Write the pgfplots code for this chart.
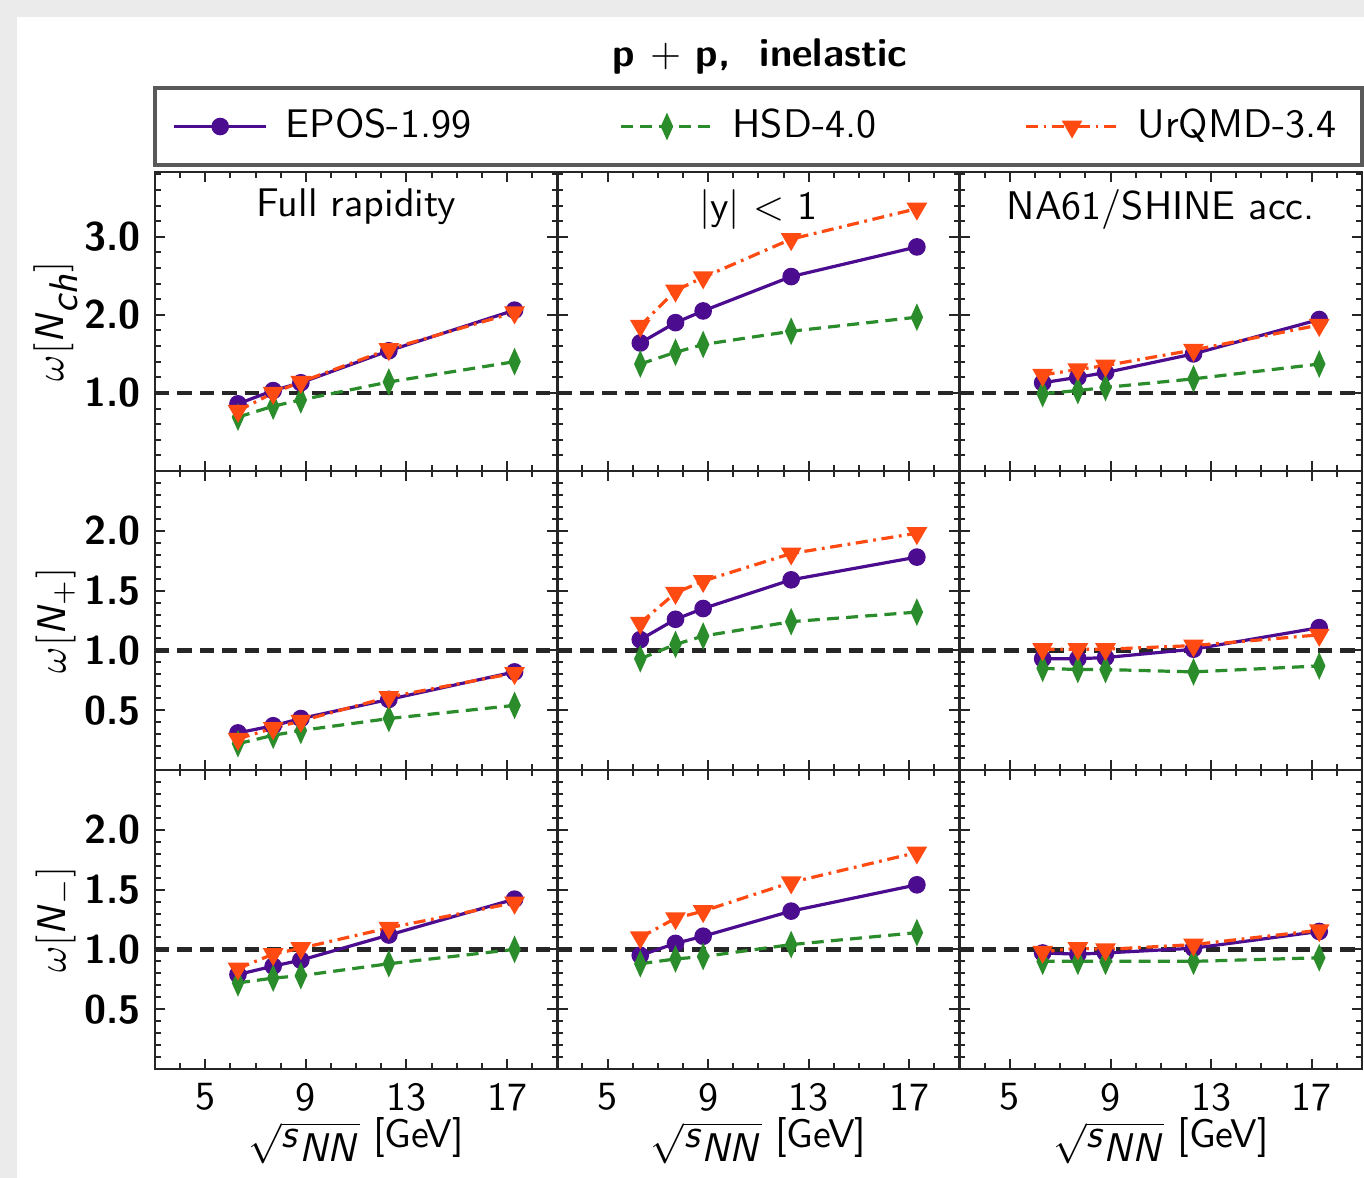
\documentclass[border=0pt]{standalone}
\usepackage{pgfplots}
\pgfplotsset{compat=1.18}
\usepackage{pgfplotstable}
\definecolor{cEPOS}{HTML}{4B0C8F}
\definecolor{cHSD}{HTML}{2A8C2A}
\definecolor{cURQMD}{HTML}{FF4A12}

% columns: sqrt(s_NN), EPOS-1.99, HSD-4.0, UrQMD-3.4
\pgfplotstableread{
x epos hsd urqmd
6.3 0.86 0.69 0.77
7.7 1.03 0.83 1.00
8.8 1.13 0.91 1.14
12.3 1.54 1.14 1.56
17.3 2.06 1.40 2.03
}\tchfull
\pgfplotstableread{
x epos hsd urqmd
6.3 1.64 1.37 1.86
7.7 1.90 1.52 2.31
8.8 2.05 1.62 2.48
12.3 2.49 1.79 2.97
17.3 2.87 1.97 3.36
}\tchy
\pgfplotstableread{
x epos hsd urqmd
6.3 1.13 0.99 1.23
7.7 1.20 1.03 1.30
8.8 1.26 1.07 1.35
12.3 1.50 1.18 1.55
17.3 1.94 1.37 1.87
}\tchna
\pgfplotstableread{
x epos hsd urqmd
6.3 0.31 0.22 0.26
7.7 0.37 0.29 0.35
8.8 0.43 0.33 0.41
12.3 0.59 0.43 0.61
17.3 0.82 0.54 0.81
}\tplfull
\pgfplotstableread{
x epos hsd urqmd
6.3 1.09 0.93 1.23
7.7 1.26 1.05 1.48
8.8 1.35 1.12 1.58
12.3 1.59 1.24 1.81
17.3 1.78 1.32 1.98
}\tply
\pgfplotstableread{
x epos hsd urqmd
6.3 0.93 0.85 1.01
7.7 0.93 0.84 1.01
8.8 0.94 0.84 1.01
12.3 1.01 0.82 1.04
17.3 1.19 0.87 1.13
}\tplna
\pgfplotstableread{
x epos hsd urqmd
6.3 0.79 0.72 0.84
7.7 0.86 0.76 0.96
8.8 0.91 0.78 1.01
12.3 1.12 0.88 1.18
17.3 1.42 1.00 1.39
}\tmifull
\pgfplotstableread{
x epos hsd urqmd
6.3 0.95 0.88 1.10
7.7 1.05 0.92 1.26
8.8 1.11 0.94 1.32
12.3 1.32 1.04 1.56
17.3 1.54 1.14 1.81
}\tmiy
\pgfplotstableread{
x epos hsd urqmd
6.3 0.97 0.90 0.98
7.7 0.96 0.90 1.01
8.8 0.97 0.90 1.00
12.3 1.01 0.90 1.04
17.3 1.15 0.93 1.16
}\tmina

\newcommand{\sfi}[1]{\textsf{\textit{#1}}}
\newcommand{\xlab}{$\sqrt{\sfi{s}_{\sfi{NN}}}$ [GeV]}

\pgfplotsset{
  panel/.style={scale only axis, width=100.58pt, height=74.75pt, anchor=south west,
    xmin=3, xmax=19, xtick={5,9,13,17}, minor xtick={3,4,...,19},
    tick align=inside, major tick length=2.6pt, minor tick length=1.4pt,
    axis line style={line width=0.6pt, black!85},
    every tick/.style={black!85, line width=0.5pt},
    xticklabels={}, yticklabels={},
    xticklabel style={font=\sffamily},
    yticklabel style={font=\sffamily\bfseries},
    xlabel style={font=\sffamily, at={(axis description cs:0.5,-0.24)}, anchor=center},
    ylabel style={font=\sffamily, at={(axis description cs:-0.247,0.5)}, anchor=center},
  },
  row1/.style={ymin=0, ymax=3.83, ytick={1,2,3}, minor ytick={0,0.2,...,3.8}},
  row23/.style={ymin=0, ymax=2.5, ytick={0.5,1,1.5,2}, minor ytick={0,0.1,...,2.5}},
  sEPOS/.style={cEPOS, line width=0.8pt, solid, mark=*, mark size=1.8pt, mark options={solid, fill=cEPOS}},
  sHSD/.style={cHSD, line width=0.8pt, dash pattern=on 3pt off 1.8pt, mark=diamond*, mark size=2.5pt, mark options={solid, xscale=0.6, fill=cHSD}},
  sURQMD/.style={cURQMD, line width=0.8pt, dash pattern=on 3pt off 1.4pt on 0.7pt off 1.4pt, mark=triangle*, mark size=2.2pt, mark options={solid, rotate=180, fill=cURQMD}},
  sONE/.style={black!85, line width=1.1pt, dash pattern=on 3.6pt off 2pt, forget plot},
}

\newcommand{\drawpanel}[1]{%
  \addplot[sONE] coordinates {(3,1) (19,1)};
  \addplot[sEPOS] table[x=x,y=epos] {#1};
  \addplot[sHSD] table[x=x,y=hsd] {#1};
  \addplot[sURQMD] table[x=x,y=urqmd] {#1};
}
\newcommand{\ptitle}[1]{\node[font=\sffamily, anchor=north] at (rel axis cs:0.5,0.99) {#1};}

\begin{document}
\begin{tikzpicture}
\useasboundingbox (0pt,0pt) rectangle (341pt,294.5pt);
\fill[black!8] (0pt,0pt) rectangle (341pt,294.5pt);
\fill[white] (4.25pt,0pt) rectangle (341pt,290.25pt);

\node[font=\sffamily\bfseries] at (190pt,280.25pt) {p $+$ p,~ inelastic};
\draw[black!65, line width=0.9pt] (38.75pt,253.25pt) rectangle (340.5pt,272.5pt);

% ---- row 1 ----
\begin{axis}[panel, row1, at={(38.75pt,176.75pt)}, yticklabels={1.0,2.0,3.0},
  ylabel={$\omega[\sfi{N}_{\sfi{ch}}]$},
  legend columns=3,
  legend style={draw=none, fill=none, at={(axis description cs:0.012,1.152)}, anchor=west,
    font=\sffamily,
    /tikz/every odd column/.append style={column sep=2.5pt},
    /tikz/every even column/.append style={column sep=35pt}},
  legend image code/.code={\draw[mark repeat=2,mark phase=2,#1] plot coordinates {(0pt,0pt) (11.5pt,0pt) (23pt,0pt)};},
  legend cell align=left]
\drawpanel{\tchfull}
\legend{EPOS-1.99, HSD-4.0, UrQMD-3.4}
\ptitle{Full rapidity}
\end{axis}
\begin{axis}[panel, row1, at={(139.33pt,176.75pt)}]
\drawpanel{\tchy}
\ptitle{$|$y$|$ $<$ 1}
\end{axis}
\begin{axis}[panel, row1, at={(239.92pt,176.75pt)}]
\drawpanel{\tchna}
\ptitle{NA61/SHINE acc.}
\end{axis}

% ---- row 2 ----
\begin{axis}[panel, row23, at={(38.75pt,102pt)}, yticklabels={0.5,1.0,1.5,2.0},
  ylabel={$\omega[\sfi{N}_{+}]$}]
\drawpanel{\tplfull}
\end{axis}
\begin{axis}[panel, row23, at={(139.33pt,102pt)}]
\drawpanel{\tply}
\end{axis}
\begin{axis}[panel, row23, at={(239.92pt,102pt)}]
\drawpanel{\tplna}
\end{axis}

% ---- row 3 ----
\begin{axis}[panel, row23, at={(38.75pt,27.25pt)}, yticklabels={0.5,1.0,1.5,2.0},
  xticklabels={5,9,13,17}, ylabel={$\omega[\sfi{N}_{-}]$}, xlabel={\xlab}]
\drawpanel{\tmifull}
\end{axis}
\begin{axis}[panel, row23, at={(139.33pt,27.25pt)}, xticklabels={5,9,13,17}, xlabel={\xlab}]
\drawpanel{\tmiy}
\end{axis}
\begin{axis}[panel, row23, at={(239.92pt,27.25pt)}, xticklabels={5,9,13,17}, xlabel={\xlab}]
\drawpanel{\tmina}
\end{axis}
\end{tikzpicture}
\end{document}
